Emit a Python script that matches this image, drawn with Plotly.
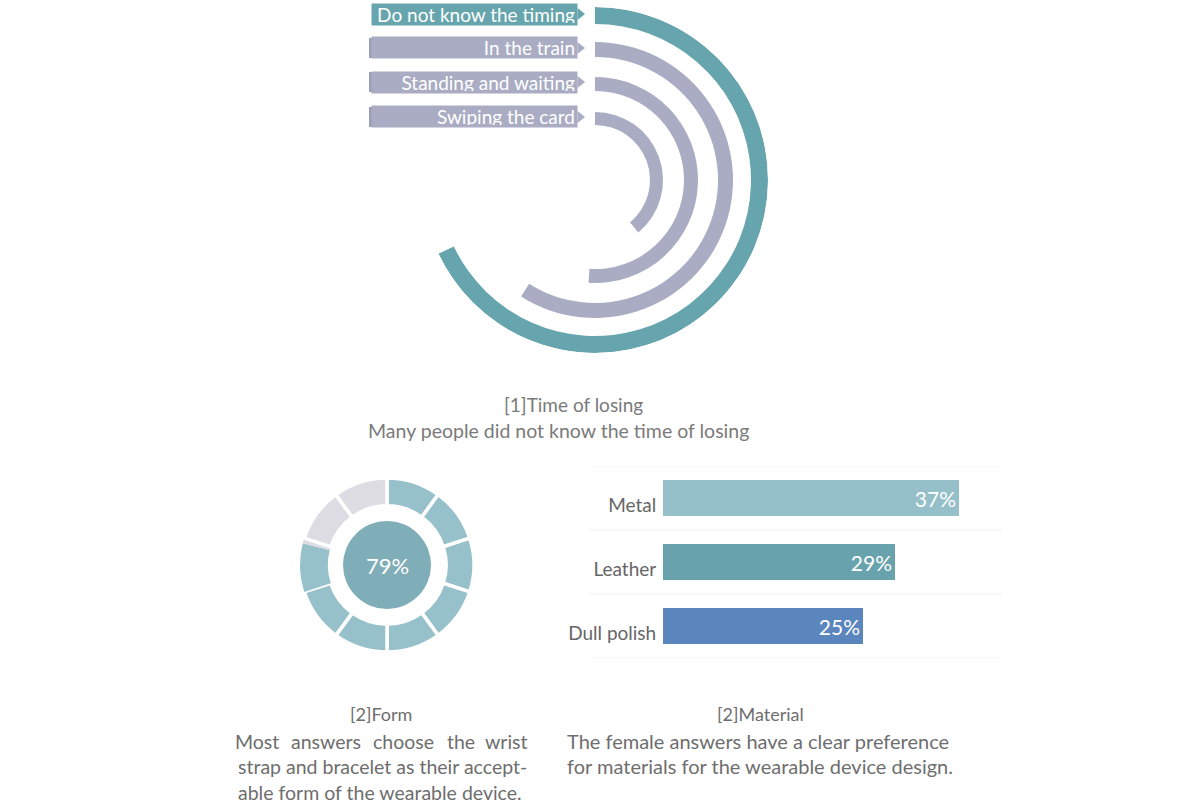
import plotly.graph_objects as go

W, H = 1200, 805
FONT = "Lato"

# ---------------- data ----------------
time_labels = ["Do not know the timing", "In the train", "Standing and waiting", "Swiping the card"]
time_pct = [68, 59, 51, 39]
time_colors = ["#66a5ad", "#a9acc2", "#a9acc2", "#a9acc2"]
ring_inner = [156, 123, 89, 55]
ring_thick = [17, 15, 14, 13]

form_pct = 79
form_segments = 10

material_labels = ["Metal", "Leather", "Dull polish"]
material_pct = [37, 29, 25]
material_colors = ["#96c0c9", "#68a3ad", "#5b85bd"]


def px(x):
    return x / W


def py(y):
    return 1 - y / H


fig = go.Figure()

# ---------------- radial arcs (barpolar) ----------------
for lab, pct, col, base, th in zip(time_labels, time_pct, time_colors, ring_inner, ring_thick):
    span = pct * 3.6
    fig.add_trace(go.Barpolar(
        r=[th], base=[base], theta=[span / 2], width=[span],
        marker=dict(color=col, line=dict(width=0)),
        name=lab, showlegend=False, hoverinfo="name",
    ))

cx, cy, R = 595, 180, 173
fig.update_layout(polar=dict(
    domain=dict(x=[px(cx - R), px(cx + R)], y=[py(cy + R), py(cy - R)]),
    bgcolor="white",
    radialaxis=dict(range=[0, R], visible=False),
    angularaxis=dict(rotation=90, direction="clockwise", visible=False),
    hole=0,
))

# ribbon labels
rib_y = [14, 48, 82, 117]
shapes = []
annotations = []
for lab, col, yy in zip(time_labels, time_colors, rib_y):
    annotations.append(dict(
        x=px(578), y=py(yy), xref="paper", yref="paper", xanchor="right", yanchor="middle",
        text=lab, showarrow=False, font=dict(family=FONT, size=19, color="white"),
        bgcolor=col, width=201, height=17, borderpad=2, align="right",
    ))
    shapes.append(dict(
        type="path", xref="paper", yref="paper",
        path=f"M {px(577.5)} {py(yy - 6)} L {px(585)} {py(yy)} L {px(577.5)} {py(yy + 6)} Z",
        fillcolor=col, line=dict(width=0),
    ))
    if col != time_colors[0]:
        shapes.append(dict(type="rect", xref="paper", yref="paper",
                           x0=px(369), x1=px(373), y0=py(yy - 10), y1=py(yy + 10),
                           fillcolor="#9c9fb7", line=dict(width=0)))

# ---------------- donut ----------------
seg = 100 / form_segments
full = int(form_pct // seg)
part = form_pct - full * seg
vals, cols, lws = [], [], []
for i in range(full):
    vals.append(seg); cols.append("#97c1ca"); lws.append(3.5)
if part > 0:
    vals.append(part); cols.append("#97c1ca"); lws.append(0)
    vals.append(seg - part); cols.append("#dcdce2"); lws.append(0)
for i in range(form_segments - full - 1):
    vals.append(seg); cols.append("#dcdce2"); lws.append(3.5)

dcx, dcy, dR = 387, 565, 87
fig.add_trace(go.Pie(
    values=vals, sort=False, direction="clockwise", rotation=0, hole=0.68,
    marker=dict(colors=cols, line=dict(color="white", width=lws)),
    textinfo="none", hoverinfo="skip", showlegend=False,
    domain=dict(x=[px(dcx - dR), px(dcx + dR)], y=[py(dcy + dR), py(dcy - dR)]),
))
cR = 44
fig.add_trace(go.Pie(
    values=[form_pct], sort=False, hole=0,
    marker=dict(colors=["#7fadb8"], line=dict(width=0)),
    textinfo="none", hoverinfo="skip", showlegend=False,
    domain=dict(x=[px(dcx - cR), px(dcx + cR)], y=[py(dcy + cR), py(dcy - cR)]),
))
annotations.append(dict(x=px(dcx), y=py(dcy), xref="paper", yref="paper", showarrow=False,
                        xanchor="center", yanchor="middle",
                        text=f"{form_pct}%", font=dict(family=FONT, size=22, color="white")))

# ---------------- material bars ----------------
fig.add_trace(go.Bar(
    x=material_pct, y=material_labels, orientation="h",
    marker=dict(color=material_colors, line=dict(width=0)),
    width=0.56, text=[f"{v}%" for v in material_pct], textposition="inside",
    insidetextanchor="end", textfont=dict(family=FONT, size=21, color="white"),
    showlegend=False, hoverinfo="x+y", xaxis="x", yaxis="y",
))
fig.update_layout(
    xaxis=dict(domain=[px(663), px(1003)], range=[0, 42.5], visible=False),
    yaxis=dict(domain=[py(658), py(466)], autorange=False, range=[2.5, -0.5],
               showgrid=False, zeroline=False, showline=False,
               ticks="outside", ticklen=2, tickcolor="rgba(0,0,0,0)",
               ticklabelshift=-7,
               tickfont=dict(family=FONT, size=19, color="#666666")),
)
for yv in [-0.5, 0.5, 1.5, 2.5]:
    shapes.append(dict(type="line", xref="x domain", yref="y", x0=-0.22, x1=1.0, y0=yv, y1=yv,
                       line=dict(color="#f1f1f1", width=1), layer="below"))

# ---------------- texts ----------------
def txt(x, y, s, size=18, anchor="center", color="#6e6e6e"):
    annotations.append(dict(x=px(x), y=py(y), xref="paper", yref="paper", xanchor=anchor,
                            yanchor="middle", text=s, showarrow=False,
                            font=dict(family=FONT, size=size, color=color)))

txt(573, 404, "[1]Time of losing", 19, color="#7a7a7a")
txt(558, 430, "Many people did not know the time of losing", 19.5, color="#7a7a7a")
txt(381, 714, "[2]Form", 18)
txt(760, 714, "[2]Material", 18)

for w, xw in [("Most", 257), ("answers", 326), ("choose", 403), ("the", 461), ("wrist", 506)]:
    txt(xw, 741, w, 19.5)
txt(236, 766, "strap and bracelet as their accept-", 19.5, anchor="left")
txt(236, 792, "able form of the wearable device.", 19.5, anchor="left")
txt(565, 741, "The female answers have a clear preference", 20, anchor="left")
txt(565, 766, "for materials for the wearable device design.", 20, anchor="left")

fig.update_layout(
    width=W, height=H, margin=dict(l=0, r=0, t=0, b=0),
    paper_bgcolor="white", plot_bgcolor="white",
    shapes=shapes, annotations=annotations, showlegend=False,
    font=dict(family=FONT),
)

fig.write_html("out.html")
